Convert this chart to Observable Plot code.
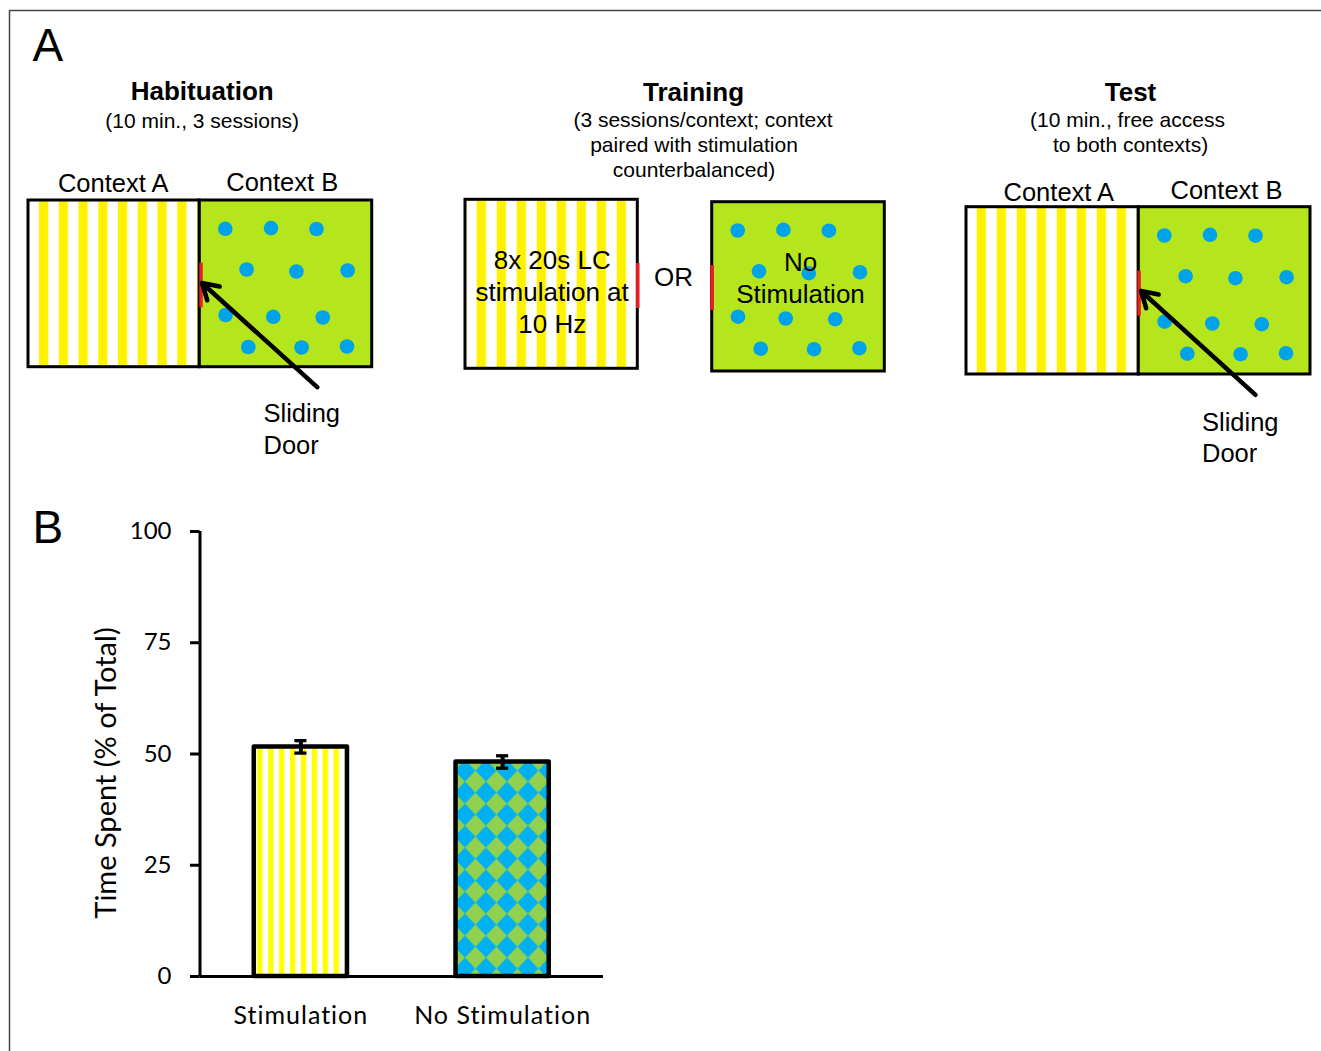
<!DOCTYPE html>
<html>
<head>
<meta charset="utf-8">
<script src="https://cdn.jsdelivr.net/npm/d3@7"></script>
<script src="https://cdn.jsdelivr.net/npm/@observablehq/plot@0.6"></script>
<style>
  html, body { margin: 0; padding: 0; background: #fff; overflow: hidden; }
  #wrap { position: relative; width: 1321px; height: 1051px; }
  #wrap > svg { position: absolute; left: 0; }
  #panelB [aria-label="x-axis tick label"] text { letter-spacing: 1px; }
  #panelB [aria-label="y-label"] text { letter-spacing: 0.5px; }
</style>
</head>
<body>
<svg width="0" height="0" style="position:absolute">
  <defs>
    <pattern id="patHab" patternUnits="userSpaceOnUse" x="39" y="0" width="19.75" height="10">
      <rect width="19.75" height="10" fill="#ffffff"/><rect width="9.2" height="10" fill="#fff200"/>
    </pattern>
    <pattern id="patTrain" patternUnits="userSpaceOnUse" x="476.7" y="0" width="20" height="10">
      <rect width="20" height="10" fill="#ffffff"/><rect width="9.3" height="10" fill="#fff200"/>
    </pattern>
    <pattern id="patTest" patternUnits="userSpaceOnUse" x="976.7" y="0" width="20" height="10">
      <rect width="20" height="10" fill="#ffffff"/><rect width="9.3" height="10" fill="#fff200"/>
    </pattern>
    <pattern id="barStripes" patternUnits="userSpaceOnUse" x="257.2" y="0" width="10.92" height="10">
      <rect width="10.92" height="10" fill="#ffffff"/><rect width="5.3" height="10" fill="#ffff00"/>
    </pattern>
    <pattern id="barChecker" patternUnits="userSpaceOnUse" x="464.9" y="312.6" width="21" height="22">
      <rect width="21" height="22" fill="#00b0f0"/>
      <polygon points="10.5,0 21,11 10.5,22 0,11" fill="#92d050"/>
    </pattern>
  </defs>
</svg>
<div id="wrap"></div>
<script>
// ---------------- data ----------------
const categories = ["Stimulation", "No Stimulation"];
const timeSpent = [51.6, 48.2];
const sem = [1.4, 1.4];
const yTicks = [0, 25, 50, 75, 100];
const yLabel = "Time Spent (% of Total)";

const panelLetters = ["A", "B"];
const phaseTitles = ["Habituation", "Training", "Test"];
const phaseSubtitles = [
  ["(10 min., 3 sessions)"],
  ["(3 sessions/context; context", "paired with stimulation", "counterbalanced)"],
  ["(10 min., free access", "to both contexts)"]
];
const contextLabels = ["Context A", "Context B"];
const doorLabel = "Sliding\nDoor";
const trainingLabels = ["8x 20s LC\nstimulation at\n10 Hz", "No\nStimulation"];
const orLabel = "OR";

// ---------------- layout of the diagram (pixels) ----------------
const GREEN = "#b5e61d", BLUE = "#00a2e8", RED = "#ed1c24";
const layout = {
  letters: [{x: 32, y: 46}, {x: 32, y: 527.6}],
  titles: [{x: 201.7, y: 91}, {x: 693, y: 92}, {x: 1130, y: 92}],
  subtitles: [
    [{x: 201.7, y: 121}],
    [{x: 702.5, y: 120}, {x: 693.5, y: 145}, {x: 693.5, y: 170}],
    [{x: 1127, y: 120}, {x: 1130, y: 145}]
  ],
  contextLabels: [
    [{x: 112.7, y: 183}, {x: 281.7, y: 182}],
    [{x: 1058.3, y: 192}, {x: 1226, y: 190.5}]
  ],
  compartments: [
    {x1: 28, x2: 199.3, y1: 200, y2: 366.7, fill: "url(#patHab)", dots: false},
    {x1: 199.3, x2: 371.7, y1: 200, y2: 366.7, fill: GREEN, dots: true},
    {x1: 465, x2: 637.3, y1: 199.3, y2: 368.3, fill: "url(#patTrain)", dots: false},
    {x1: 711.7, x2: 884.3, y1: 201.7, y2: 371, fill: GREEN, dots: true},
    {x1: 966, x2: 1138.3, y1: 206.7, y2: 374, fill: "url(#patTest)", dots: false},
    {x1: 1138.3, x2: 1310, y1: 206.7, y2: 374, fill: GREEN, dots: true}
  ],
  dotGrid: [
    [25.5, 28.3], [71.2, 27.6], [116.7, 28.5],
    [46.8, 69], [96.6, 71], [147.8, 70],
    [25.8, 114.5], [73.5, 116.3], [123, 117],
    [48.5, 146.5], [101.8, 147], [147.2, 146]
  ],
  doors: [
    {x: 200.5, y1: 262.7, y2: 307.3},
    {x: 637.3, y1: 263, y2: 308},
    {x: 711.7, y1: 265, y2: 310},
    {x: 1138.6, y1: 270.7, y2: 315.7}
  ],
  arrows: [
    {x1: 316.7, y1: 386.7, x2: 201.5, y2: 282.5},
    {x1: 1255, y1: 394.3, x2: 1140.5, y2: 290.5}
  ],
  doorLabels: [{x: 263, y: 427.5}, {x: 1201.5, y: 435.8}],
  trainingLabels: [{x: 551.7, y: 290}, {x: 800, y: 275.8}],
  orLabel: {x: 673, y: 277}
};

const wrap = document.getElementById("wrap");

// ---------------- Panel A (diagram + frame + letters) ----------------
const dots = layout.compartments.filter(c => c.dots)
  .flatMap(c => layout.dotGrid.map(([dx, dy]) => ({x: c.x1 + dx, y: c.y1 + dy})));

const titleData = phaseTitles.map((t, i) => ({text: t, ...layout.titles[i]}));
const subtitleData = phaseSubtitles.flatMap((lines, i) => lines.map((t, j) => ({text: t, ...layout.subtitles[i][j]})));
const contextData = layout.contextLabels.flatMap(pair => pair.map((p, j) => ({text: contextLabels[j], ...p})));
const letterData = panelLetters.map((t, i) => ({text: t, ...layout.letters[i]}));
const doorData = layout.doorLabels.map(p => ({text: doorLabel, ...p}));
const trainData = trainingLabels.map((t, i) => ({text: t, ...layout.trainingLabels[i]}));

const svgA = Plot.plot({
  width: 1321, height: 1051,
  marginTop: 0, marginRight: 0, marginBottom: 0, marginLeft: 0,
  x: {domain: [0, 1321], range: [0, 1321], axis: null},
  y: {domain: [0, 1051], range: [0, 1051], axis: null},
  style: {fontFamily: "'Liberation Sans', Arial, sans-serif", fontSize: "26px", color: "black", background: "white"},
  marks: [
    Plot.ruleY([10], {x1: 9, x2: 1321, stroke: "#444", strokeWidth: 1.5}),
    Plot.ruleX([9], {y1: 10, y2: 1051, stroke: "#444", strokeWidth: 1.5}),
    ...layout.compartments.map(c => Plot.rect([c], {
      x1: "x1", x2: "x2", y1: "y1", y2: "y2",
      fill: c.fill, stroke: "black", strokeWidth: 3
    })),
    Plot.ruleX(layout.doors, {x: "x", y1: "y1", y2: "y2", stroke: RED, strokeWidth: 3.5}),
    Plot.dot(dots, {x: "x", y: "y", r: 7.3, fill: BLUE}),
    Plot.arrow(layout.arrows, {x1: "x1", y1: "y1", x2: "x2", y2: "y2", stroke: "black", strokeWidth: 4.5, headLength: 6, headAngle: 62}),
    Plot.text(letterData, {x: "x", y: "y", text: "text", fontSize: 46, textAnchor: "start"}),
    Plot.text(titleData, {x: "x", y: "y", text: "text", fontSize: 26, fontWeight: "bold"}),
    Plot.text(subtitleData, {x: "x", y: "y", text: "text", fontSize: 21}),
    Plot.text(contextData, {x: "x", y: "y", text: "text", fontSize: 25.5}),
    Plot.text(doorData, {x: "x", y: "y", text: "text", fontSize: 25.5, textAnchor: "start", lineHeight: 1.24}),
    Plot.text(trainData, {x: "x", y: "y", text: "text", fontSize: 26, lineHeight: 1.23}),
    Plot.text([orLabel], {x: layout.orLabel.x, y: layout.orLabel.y, text: d => d, fontSize: 26})
  ]
});
svgA.style.top = "0px";
wrap.appendChild(svgA);

// ---------------- Panel B (bar chart) ----------------
const bars = categories.map((c, i) => ({cat: c, pos: i + 0.5, value: timeSpent[i], sem: sem[i]}));
const halfBar = 0.231, halfCap = 0.03;
const barFills = ["url(#barStripes)", "url(#barChecker)"];

const svgB = Plot.plot({
  width: 660, height: 571,
  marginTop: 51, marginBottom: 75, marginLeft: 199.5, marginRight: 57,
  x: {domain: [0, 2], axis: null},
  y: {domain: [0, 100], axis: null},
  style: {fontFamily: "Lato, 'Open Sans', sans-serif", fontSize: "24px", color: "black", background: "transparent"},
  marks: [
    ...bars.map((b, i) => Plot.rectY([b], {
      x1: d => d.pos - halfBar, x2: d => d.pos + halfBar, y: "value",
      fill: barFills[i], stroke: "black", strokeWidth: 4.5, strokeLinejoin: "round"
    })),
    Plot.ruleY([0], {stroke: "black", strokeWidth: 3}),
    Plot.ruleX([0], {y1: 0, y2: 100, stroke: "black", strokeWidth: 3}),
    Plot.axisY({ticks: yTicks, tickSize: 9.5, tickPadding: 19, strokeWidth: 3, fontSize: 24, label: null}),
    Plot.axisX({ticks: bars.map(b => b.pos), tickFormat: v => categories[Math.floor(v)], tickSize: 0, tickPadding: 30, fontSize: 25, label: null}),
    Plot.ruleX(bars, {x: "pos", y1: d => d.value - d.sem, y2: d => d.value + d.sem, stroke: "black", strokeWidth: 4}),
    Plot.ruleY(bars, {y: d => d.value + d.sem, x1: d => d.pos - halfCap, x2: d => d.pos + halfCap, stroke: "black", strokeWidth: 3.3}),
    Plot.ruleY(bars, {y: d => d.value - d.sem, x1: d => d.pos - halfCap, x2: d => d.pos + halfCap, stroke: "black", strokeWidth: 3.3}),
    Plot.text([yLabel], {frameAnchor: "left", textAnchor: "middle", text: d => d, rotate: -90, dx: -93.5, dy: 19, fontSize: 29, ariaLabel: "y-label"})
  ]
});
svgB.id = "panelB";
svgB.style.top = "480px";
wrap.appendChild(svgB);
</script>
</body>
</html>
